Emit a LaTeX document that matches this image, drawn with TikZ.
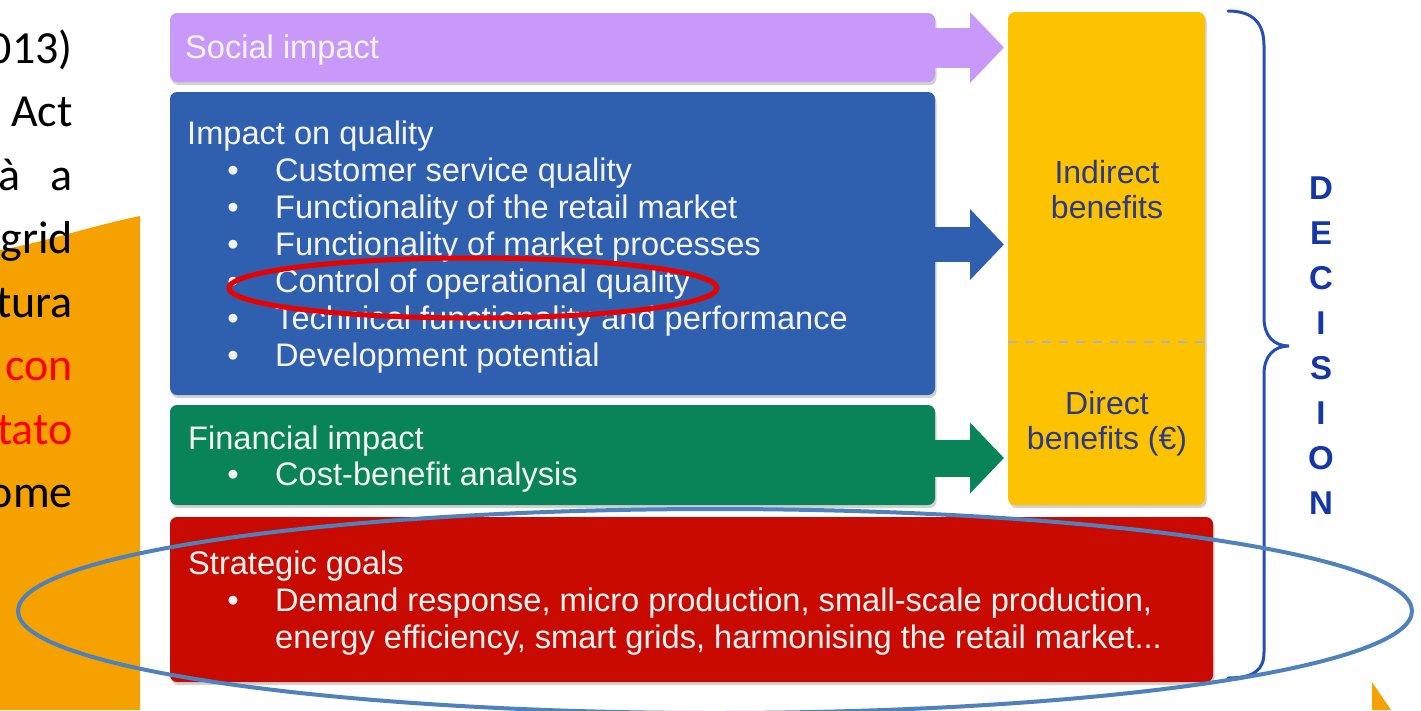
\documentclass[tikz,border=0pt]{standalone}
\usepackage{fontspec}
\setmainfont{Liberation Sans}
\newfontfamily\calib{Carlito}
\usetikzlibrary{arrows.meta,calc}

\definecolor{socialC}{RGB}{201,153,249}
\definecolor{qualityC}{RGB}{47,95,175}
\definecolor{financeC}{RGB}{8,132,88}
\definecolor{strategyC}{RGB}{200,10,0}
\definecolor{benefitC}{RGB}{253,195,0}
\definecolor{benefitText}{RGB}{42,58,135}
\definecolor{braceC}{RGB}{38,78,180}
\definecolor{letterC}{RGB}{20,55,165}
\definecolor{ringBlue}{RGB}{79,129,189}
\definecolor{ringRed}{RGB}{235,0,0}
\definecolor{slideOrange}{RGB}{245,162,0}
\definecolor{boxText}{RGB}{244,244,244}
\definecolor{dashC}{RGB}{172,176,200}

\begin{document}
\begin{tikzpicture}[x=1pt,y=-1pt,
  panel/.style={anchor=north west, inner sep=0pt, outer sep=0pt, rounded corners=7pt,
                minimum width=#1},
  shadowed/.style={preaction={fill=black, opacity=0.18, transform canvas={shift={(1.5pt,-3pt)}}}},
  ttl/.style={anchor=base west, inner sep=0pt, text=boxText, font=\fontsize{32.6}{37}\selectfont},
  dot/.style={anchor=base, inner sep=0pt, text=boxText, font=\fontsize{32.6}{37}\selectfont},
  bentext/.style={inner sep=0pt, text=benefitText, align=center, font=\fontsize{32}{35}\selectfont},
  letter/.style={anchor=base, inner sep=0pt, text=letterC, font=\fontsize{33}{33}\selectfont\bfseries},
  side/.style={anchor=base east, inner sep=0pt, font=\calib\fontsize{46}{64}\selectfont},
  flow/.style={line width=#1, -{Triangle[length=34pt,width=69pt]}, shorten >=4pt},
]
\useasboundingbox (0,0) rectangle (1421,710);
\fill[white] (0,0) rectangle (1421,710);

% orange slide decoration
\fill[slideOrange] (0,250) .. controls (45,242) and (95,225) .. (140,216) -- (140,710) -- (0,710) -- cycle;
\fill[slideOrange] (1372,682) -- (1391,710) -- (1372,710) -- cycle;

% body text at the left edge
\node[side] (s1) at (73,63) {013)};
\node[side] (s2) at (73,126.5) {Act};
\node[side] (s3) at (73,190) {à\hspace{30pt}a};
\node[side] (s4) at (73,253.5) {grid};
\node[side] (s5) at (73,317) {tura};
\node[side, text=red] (s6) at (73,380.5) {con};
\node[side, text=red] (s7) at (73,444) {tato};
\node[side] (s8) at (73,507.5) {ome};

% impact panels
\node[panel=765pt, minimum height=69pt, fill=socialC, shadowed] (social) at (170,13) {};
\node[panel=765pt, minimum height=303pt, fill=qualityC, shadowed] (quality) at (170,92) {};
\node[panel=765pt, minimum height=100pt, fill=financeC, shadowed] (finance) at (170,405) {};
\node[panel=1043pt, minimum height=165pt, fill=strategyC, shadowed] (strategy) at (170,517) {};
\node[panel=197pt, minimum height=493pt, fill=benefitC, shadowed] (benefits) at (1008,12) {};

% split between indirect and direct benefits
\coordinate (split) at (0,342);
\draw[dashC, line width=2pt, dash pattern=on 9pt off 8pt] (benefits.west |- split) -- (benefits.east |- split);

% block arrows into the benefits column
\coordinate (ySocial) at (0,47.5);
\coordinate (yQuality) at (0,244.5);
\coordinate (yFinance) at (0,458);
\draw[flow=40pt, socialC] (social.east |- ySocial) -- (benefits.west |- ySocial);
\draw[flow=35pt, qualityC] (quality.east |- yQuality) -- (benefits.west |- yQuality);
\draw[flow=37pt, financeC] (finance.east |- yFinance) -- (benefits.west |- yFinance);

% panel texts
\node[ttl] (socialT) at (185,58) {Social impact};

\node[ttl] (qualityT) at (187,144) {Impact on quality};
\foreach \yy/\txt [count=\i] in {181/Customer service quality,
  218/Functionality of the retail market,
  255/Functionality of market processes,
  292/Control of operational quality,
  329/Technical functionality and performance,
  366/Development potential}{
  \node[dot] (qb\i) at (233,\yy) {•};
  \node[ttl] (qi\i) at (275,\yy) {\txt};
}

\node[ttl] (financeT) at (188,449) {Financial impact};
\node[dot] (fb1) at (233,485) {•};
\node[ttl] (fi1) at (275,485) {Cost-benefit analysis};

\node[ttl] (strategyT) at (188,574) {Strategic goals};
\node[dot] (gb1) at (233,611) {•};
\node[ttl] (gi1) at (275,611) {Demand response, micro production, small-scale production,};
\node[ttl] (gi2) at (275,648) {energy efficiency, smart grids, harmonising the retail market...};

\node[bentext] (indirect) at (1107,190) {Indirect\\benefits};
\node[bentext] (direct) at (1107,424) {Direct\\benefits (€)};

% decision brace
\draw[braceC, line width=3pt, line cap=round]
  (1228,11) .. controls (1254,11) and (1264,24) .. (1264,46) -- (1264,318)
  .. controls (1264,336) and (1274,346) .. (1289,346)
  .. controls (1274,346) and (1264,356) .. (1264,374) -- (1264,652)
  .. controls (1264,670) and (1254,678) .. (1228,678);

\foreach \ch/\yy [count=\i] in {D/199.5,E/244.5,C/289.5,I/334.5,S/379.5,I/424.5,O/469.5,N/514.5}{
  \node[letter] (dec\i) at (1321,\yy) {\ch};
}

% highlight rings
\draw[ringRed, line width=5pt] (473,288) ellipse [x radius=244, y radius=30];
\draw[ringBlue, line width=4pt] (715,611) ellipse [x radius=697, y radius=102];
\end{tikzpicture}
\end{document}
